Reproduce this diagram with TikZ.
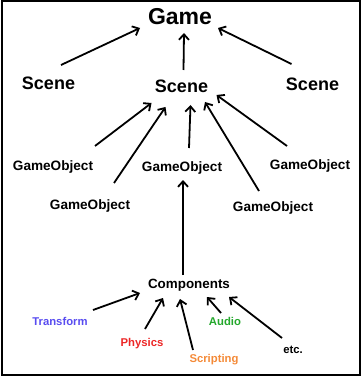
\documentclass[tikz,border=0pt]{standalone}
\usepackage{fontspec}
\setmainfont{Liberation Sans}
\usetikzlibrary{arrows.meta,calc}

\begin{document}
\begin{tikzpicture}[x=1pt,y=-1pt]
      % colours of the component labels
      \definecolor{transformcolor}{RGB}{88,76,240}
      \definecolor{physicscolor}{RGB}{236,38,38}
      \definecolor{scriptcolor}{RGB}{244,138,56}
      \definecolor{audiocolor}{RGB}{36,168,44}

      % styles
      \tikzstyle{gamelabel} = [inner sep=0pt, text height=16.5pt, text depth=0pt, font=\bfseries\fontsize{23}{27}\selectfont]
      \tikzstyle{scenelabel} = [inner sep=0pt, text height=13pt, text depth=0pt, font=\bfseries\fontsize{18}{22}\selectfont]
      \tikzstyle{objlabel} = [inner sep=0pt, text height=9.8pt, text depth=0pt, font=\bfseries\fontsize{13.6}{16}\selectfont]
      \tikzstyle{leaflabel} = [inner sep=0pt, text height=8.1pt, text depth=0pt, font=\bfseries\fontsize{11.3}{13}\selectfont]
      \tikzstyle{arr} = [line width=1.8pt, -{Straight Barb[length=5.5pt,width=10pt,line width=1.8pt]}]

      \useasboundingbox (0,0) rectangle (361,377);
      \draw[line width=2pt] (1.5,1.5) rectangle (359.5,374.5);

      % top: the game
      \node[gamelabel] (game) at (180,16) {Game};

      % scenes
      \node[scenelabel] (sceneL) at (48.5,83) {Scene};
      \node[scenelabel] (sceneM) at (181.5,86) {Scene};
      \node[scenelabel] (sceneR) at (312.5,84) {Scene};

      % game objects
      \node[objlabel] (go1) at (53,166) {GameObject};
      \node[objlabel] (go2) at (90,205) {GameObject};
      \node[objlabel] (go3) at (182,167) {GameObject};
      \node[objlabel] (go4) at (273,207) {GameObject};
      \node[objlabel] (go5) at (310,165) {GameObject};

      % components
      \node[objlabel, font=\bfseries\fontsize{13.4}{16}\selectfont] (comp) at (189,284) {Components};
      \node[leaflabel, text=transformcolor] (transform) at (60,321) {Transform};
      \node[leaflabel, text=physicscolor] (physics) at (142,342) {Physics};
      \node[leaflabel, text=scriptcolor] (scripting) at (214,358) {Scripting};
      \node[leaflabel, text=audiocolor] (audio) at (225,321) {Audio};
      \node[leaflabel] (etc) at (293,349) {etc.};

      % scenes -> game
      \draw[arr] ($(sceneL)+(12.5,-18)$) -- ($(game)+(-40,12)$);
      \draw[arr] ($(sceneM)+(2,-16)$) -- ($(game)+(4,17)$);
      \draw[arr] ($(sceneR)+(-21,-20)$) -- ($(game)+(38,12)$);

      % game objects -> scene
      \draw[arr] ($(go1)+(42,-20)$) -- ($(sceneM)+(-30,17)$);
      \draw[arr] ($(go2)+(24,-22)$) -- ($(sceneM)+(-16,21)$);
      \draw[arr] ($(go3)+(7,-19)$) -- ($(sceneM)+(9,19)$);
      \draw[arr] ($(go4)+(-14,-16)$) -- ($(sceneM)+(23.5,16)$);
      \draw[arr] ($(go5)+(-23,-19)$) -- ($(sceneM)+(35,9)$);

      % components -> game object
      \draw[arr] ($(comp)+(-6,-9)$) -- ($(go3)+(1,13)$);

      % single components -> components
      \draw[arr] ($(transform)+(33,-11)$) -- ($(comp)+(-49,9)$);
      \draw[arr] ($(physics)+(3,-13)$) -- ($(comp)+(-26,14)$);
      \draw[arr] ($(scripting)+(-21,-8)$) -- ($(comp)+(-9,15)$);
      \draw[arr] ($(audio)+(-4,-8)$) -- ($(comp)+(18,13)$);
      \draw[arr] ($(etc)+(-11,-11)$) -- ($(comp)+(40,13)$);
    \end{tikzpicture}
\end{document}
